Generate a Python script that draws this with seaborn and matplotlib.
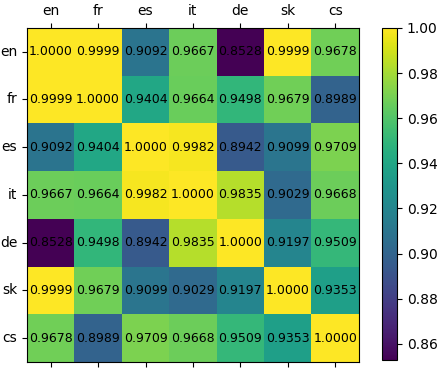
import numpy as np
import pandas as pd
import matplotlib
matplotlib.use("Agg")
import matplotlib.pyplot as plt
import seaborn as sns

langs = ["en", "fr", "es", "it", "de", "sk", "cs"]

# pairwise similarity rows (symmetric)
row_en = [1.0000, 0.9999, 0.9092, 0.9667, 0.8528, 0.9999, 0.9678]
row_fr = [0.9999, 1.0000, 0.9404, 0.9664, 0.9498, 0.9679, 0.8989]
row_es = [0.9092, 0.9404, 1.0000, 0.9982, 0.8942, 0.9099, 0.9709]
row_it = [0.9667, 0.9664, 0.9982, 1.0000, 0.9835, 0.9029, 0.9668]
row_de = [0.8528, 0.9498, 0.8942, 0.9835, 1.0000, 0.9197, 0.9509]
row_sk = [0.9999, 0.9679, 0.9099, 0.9029, 0.9197, 1.0000, 0.9353]
row_cs = [0.9678, 0.8989, 0.9709, 0.9668, 0.9509, 0.9353, 1.0000]

sim = pd.DataFrame([row_en, row_fr, row_es, row_it, row_de, row_sk, row_cs],
                   index=langs, columns=langs)

fig = plt.figure(figsize=(4.42, 3.72), dpi=100)
ax = fig.add_axes([0.061, 0.027, 0.751, 0.898])
cax = fig.add_axes([0.864, 0.032, 0.034, 0.893])

sns.heatmap(sim, ax=ax, cbar_ax=cax, cmap="viridis", annot=True, fmt=".4f",
            annot_kws={"color": "black", "fontsize": 9}, square=False)

ax.tick_params(top=True, labeltop=True, bottom=True, labelbottom=False,
               left=True, length=3.5, labelsize=10)
ax.set_yticklabels(langs, rotation=0)
ax.set_xticklabels(langs, rotation=0)
ax.set_xlabel("")
ax.set_ylabel("")
for s in ax.spines.values():
    s.set_visible(True)
    s.set_linewidth(0.8)
    s.set_color("black")

cb = ax.collections[0].colorbar
cb.outline.set_linewidth(0.8)
cb.outline.set_edgecolor("black")
cb.set_ticks([0.86, 0.88, 0.90, 0.92, 0.94, 0.96, 0.98, 1.00])
cb.ax.tick_params(labelsize=10, length=3.5)

fig.savefig("out.png", dpi=100)
